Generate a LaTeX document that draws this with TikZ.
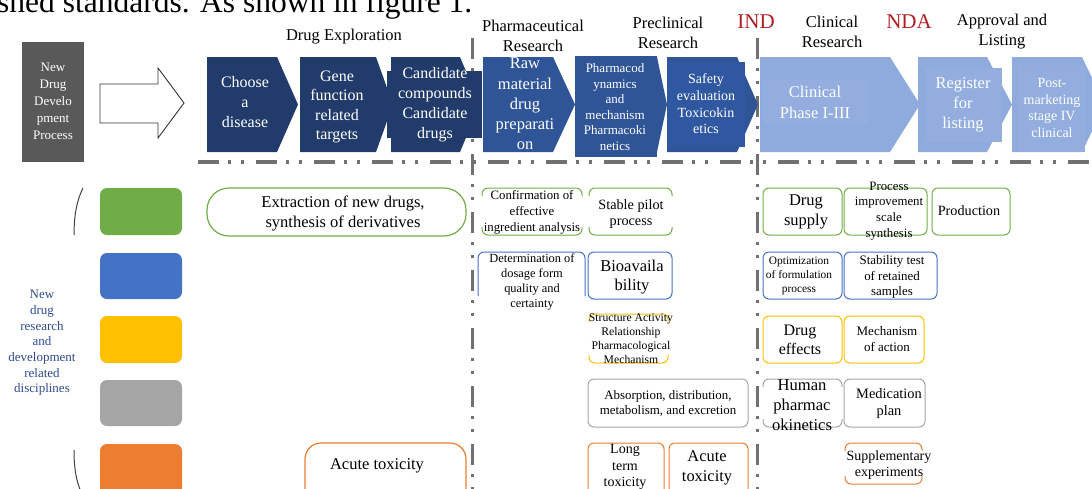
\documentclass[tikz,border=0pt]{standalone}
\usepackage{fontspec}
\setmainfont{Liberation Serif}
\usetikzlibrary{calc}
\definecolor{navy}{HTML}{213B6B}
\definecolor{mblue}{HTML}{2F5597}
\definecolor{mblue2}{HTML}{3058A0}
\definecolor{lblue}{HTML}{8FAADC}
\definecolor{lblue2}{HTML}{93AEDE}
\definecolor{dgray}{HTML}{595959}
\definecolor{lgreen}{HTML}{70AD47}
\definecolor{lblueL}{HTML}{4472C4}
\definecolor{lgold}{HTML}{FFC000}
\definecolor{lgray}{HTML}{A5A5A5}
\definecolor{lorange}{HTML}{ED7D31}
\definecolor{indred}{HTML}{B01E23}
\definecolor{sepgray}{HTML}{707070}
\definecolor{legtext}{HTML}{2E4A8C}
\newcommand\fs[2]{\fontsize{#1}{#2}\selectfont}
\tikzset{
 txt/.style={align=center, inner sep=0pt},
 wtxt/.style={txt, text=white},
 septype/.style={draw=sepgray, line width=3pt, dash pattern=on 21pt off 9pt on 3pt off 10pt on 3pt off 12pt},
 bline/.style={line width=1pt, rounded corners=6pt},
 legbox/.style={rounded corners=7pt},
 hdr/.style={txt, font=\fs{16.5}{20}},
 milestone/.style={txt, text=indred, font=\fs{21}{24}},
}
\newcommand\chev[6]{\fill[#6] (#1,#3) -- ({#2-#5},#3) -- (#2,{(#3+#4)/2}) -- ({#2-#5},#4) -- (#1,#4) -- cycle;}
\newcommand\fullbox[5]{\draw[#5,bline] (#1,#3) rectangle (#2,#4);}
\newcommand\tbbox[5]{%
 \draw[#5,bline] (#1,{#3+8}) |- ({(#1+#2)/2},#3) -| (#2,{#3+8});
 \draw[#5,bline] (#1,{#4-8}) |- ({(#1+#2)/2},#4) -| (#2,{#4-8});}
\begin{document}
\begin{tikzpicture}[x=1pt,y=-1pt]
\useasboundingbox (0,0) rectangle (1092,488);
\clip (0,0) rectangle (1092,488);

% caption fragment cut by the top edge
\node[anchor=base west, inner sep=0pt, font=\fs{31.5}{36}] (cap) at (-3,12.5) {shed standards. As shown in figure 1.};

% separators
\coordinate (v1t) at (472,38); \coordinate (v1b) at (472,492);
\coordinate (v2t) at (757,38); \coordinate (v2b) at (757,492);
\coordinate (hl) at (198,162); \coordinate (hr) at (1096,162);
\draw[septype] (v1t) -- (v1b);
\draw[septype] (v2t) -- (v2b);
\draw[septype, line width=4pt] (hl) -- (hr);

% title box and hollow arrow
\node[fill=dgray, minimum width=62pt, minimum height=120pt, inner sep=0pt] (ndd) at (53,102) {};
\node[wtxt, font=\fs{13}{17}] (nddt) at (53,101) {New\\Drug\\Develo\\pment\\Process};
\draw[line width=0.9pt, draw=black!80, fill=white] (100,84) -- (158,84) -- (158,68) -- (184,103) -- (158,138) -- (158,123) -- (100,123) -- cycle;

% phase headers
\node[hdr] (hExp) at (344,37) {Drug Exploration};
\node[hdr] (hPha) at (533,36) {Pharmaceutical\\Research};
\node[hdr] (hPre) at (668,33) {Preclinical\\Research};
\node[hdr] (hCli) at (832,32) {Clinical\\Research};
\node[hdr] (hApp) at (1002,32) {Approval and\\Listing};
\node[milestone] (ind) at (756,22) {IND};
\node[milestone] (nda) at (909,22) {NDA};

% chevrons: drug exploration
\chev{207}{298}{57}{152}{21}{navy}
\chev{300}{393}{57}{152}{17}{navy}
\chev{391}{480}{57}{152}{20}{navy}
\fill[navy] (387,71) rectangle (482,138);
\node[wtxt, font=\fs{16}{20}] (c1) at (245,102) {Choose\\a\\disease};
\node[wtxt, font=\fs{16}{19.5}] (c2) at (337,107) {Gene\\function\\related\\targets};
\node[wtxt, font=\fs{16}{20}] (c3) at (435,105) {Candidate\\compounds\\Candidate\\drugs};

% pharmaceutical / preclinical
\chev{483}{575}{57}{152}{22}{mblue}
\chev{575}{667}{57}{152}{10}{mblue}
\fill[mblue] (575,56) rectangle (657,157);
\chev{667}{758}{57}{152}{21}{mblue}
\fill[mblue2] (667,62) rectangle (745,147);
\node[wtxt, font=\fs{16.5}{20.3}] (c4) at (525,104) {Raw\\material\\drug\\preparati\\on};
\node[wtxt, font=\fs{13}{15.6}] (c5) at (615,107) {Pharmacod\\ynamics\\and\\mechanism\\Pharmacoki\\netics};
\node[wtxt, font=\fs{14}{16.7}] (c6) at (706,104) {Safety\\evaluation\\Toxicokin\\etics};

% clinical / approval
\chev{760}{920}{57}{152}{30}{lblue}
\fill[lblue2] (763,80) rectangle (868,124);
\chev{918}{1012}{57}{152}{25}{lblue}
\fill[lblue2] (925,68) rectangle (1002,142);
\chev{1012}{1105}{57}{152}{23}{lblue}
\fill[lblue2] (1017,65) rectangle (1085,152);
\node[wtxt, font=\fs{16.5}{21}] (c7) at (815,102) {Clinical\\Phase I-III};
\node[wtxt, font=\fs{16.5}{20}] (c8) at (963,105) {Register\\for\\listing};
\node[wtxt, font=\fs{14}{16.7}] (c9) at (1052,108) {Post-\\marketing\\stage IV\\clinical};

% legend
\node[txt, text=legtext, font=\fs{13}{15.7}] (leg) at (42,343) {New\\drug\\research\\and\\development\\related\\disciplines};
\draw[line width=1pt, draw=black!75] (83,188) .. controls (77,200) and (74,215) .. (74,235);
\draw[line width=1pt, draw=black!75] (74,450) .. controls (74,468) and (76,480) .. (81,492);
\fill[lgreen, legbox] (100,188) rectangle (182,235);
\fill[lblueL, legbox] (100,253) rectangle (182,299);
\fill[lgold, legbox] (100,316) rectangle (182,363);
\fill[lgray, legbox] (100,380) rectangle (182,426);
\fill[lorange, legbox] (100,444) rectangle (182,500);

% green row
\draw[lgreen, line width=1.2pt, rounded corners=22pt] (207,188) rectangle (466,236);
\node[txt, font=\fs{16.5}{20}] (ext) at (343,213) {Extraction of new drugs,\\synthesis of derivatives};
\tbbox{482}{582}{188}{235}{lgreen}
\node[txt, font=\fs{12.8}{16}] (conf) at (532,212) {Confirmation of\\effective\\ingredient analysis};
\tbbox{589}{672}{188}{235}{lgreen}
\node[txt, font=\fs{14.2}{16.7}] (stab1) at (631,214) {Stable pilot\\process};
\fullbox{763}{842}{188}{235}{lgreen}
\node[txt, font=\fs{16.5}{19.5}] (dsup) at (806,212) {Drug\\supply};
\fullbox{844}{927}{188}{235}{lgreen}
\node[txt, font=\fs{12.8}{15.7}] (proc) at (889,211) {Process\\improvement\\scale\\synthesis};
\fullbox{932}{1010}{188}{235}{lgreen}
\node[txt, font=\fs{14.2}{17}] (prod) at (969,211) {Production};

% blue row
\draw[lblueL,bline] (478,296) |- (531,252) -| (585,296);
\node[txt, font=\fs{12.4}{15}] (det) at (532,282) {Determination of\\dosage form\\quality and\\certainty};
\fullbox{588}{672}{252}{299}{lblueL}
\node[txt, font=\fs{16.5}{19.5}] (bio) at (632,277) {Bioavaila\\bility};
\fullbox{763}{842}{252}{299}{lblueL}
\node[txt, font=\fs{11.4}{14.3}] (opt) at (799,276) {Optimization\\of formulation\\process};
\fullbox{844}{937}{252}{299}{lblueL}
\node[txt, font=\fs{12.9}{15.5}] (stab2) at (892,277) {Stability test\\of retained\\samples};

% yellow row
\tbbox{589}{668}{314}{363}{lgold}
\node[txt, font=\fs{11.7}{14}] (sar) at (631,338.5) {Structure Activity\\Relationship\\Pharmacological\\Mechanism};
\fullbox{763}{842}{316}{363}{lgold}
\node[txt, font=\fs{16}{18.5}] (deff) at (800,340) {Drug\\effects};
\fullbox{844}{924}{316}{363}{lgold}
\node[txt, font=\fs{13}{16}] (moa) at (887,339) {Mechanism\\of action};

% gray row
\fullbox{588}{748}{379}{427}{lgray}
\node[txt, font=\fs{12.9}{15}] (adme) at (668,403.5) {Absorption, distribution,\\metabolism, and excretion};
\tbbox{763}{842}{379}{427}{lgray}
\node[txt, font=\fs{16.6}{20}] (hpk) at (802,405) {Human\\pharmac\\okinetics};
\fullbox{844}{925}{379}{427}{lgray}
\node[txt, font=\fs{14.4}{17}] (med) at (889,404) {Medication\\plan};

% orange row
\draw[lorange, line width=1.2pt, rounded corners=16pt] (305,443) rectangle (466,505);
\node[txt, font=\fs{16.5}{20}] (acu1) at (377,466) {Acute toxicity};
\fullbox{588}{664}{443}{505}{lorange}
\node[txt, font=\fs{14}{16.5}] (lt) at (625,467) {Long\\term\\toxicity};
\fullbox{669}{748}{443}{505}{lorange}
\node[txt, font=\fs{16.4}{20}] (acu2) at (707,468) {Acute\\toxicity};
\tbbox{845}{922}{443}{484}{lorange}
\node[txt, font=\fs{14}{16}] (sup) at (889,465) {Supplementary\\experiments};
\end{tikzpicture}
\end{document}
